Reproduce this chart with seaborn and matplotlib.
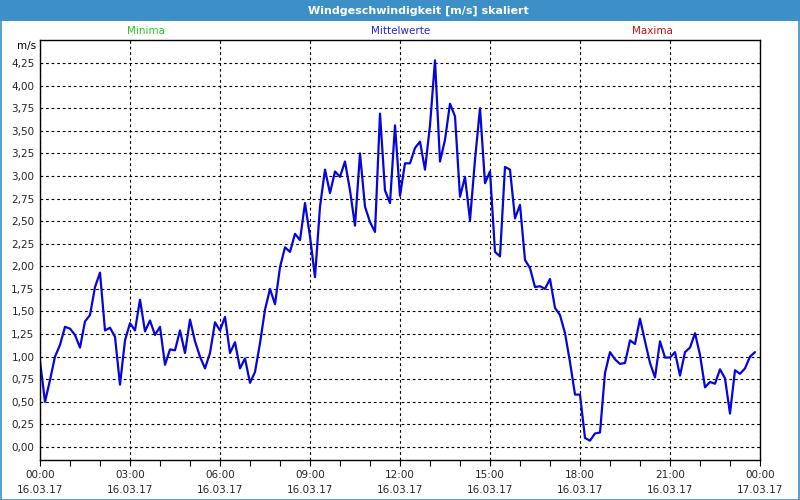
import numpy as np
import pandas as pd
import matplotlib
matplotlib.use("Agg")
import matplotlib.pyplot as plt
import matplotlib.dates as mdates
from matplotlib.ticker import FuncFormatter, FixedLocator
from matplotlib.patches import Rectangle
import seaborn as sns

# ---- data (10-minute means, 16.03.17 00:00 .. 23:50) ----
start_time = "2017-03-16 00:00"
end_time = "2017-03-17 00:00"
vals_00_06 = [0.95, 0.50, 0.74, 1.00, 1.13, 1.33, 1.31, 1.24, 1.10, 1.39, 1.46, 1.77,
              1.93, 1.29, 1.32, 1.22, 0.69, 1.18, 1.37, 1.29, 1.63, 1.28, 1.40, 1.24,
              1.33, 0.91, 1.08, 1.07, 1.29, 1.04, 1.41, 1.17, 1.00, 0.87, 1.04, 1.38]
vals_06_12 = [1.29, 1.44, 1.04, 1.16, 0.87, 0.98, 0.71, 0.83, 1.15, 1.52, 1.75, 1.58,
              1.99, 2.21, 2.16, 2.36, 2.29, 2.70, 2.33, 1.88, 2.66, 3.07, 2.81, 3.05,
              2.99, 3.16, 2.84, 2.45, 3.25, 2.66, 2.49, 2.38, 3.69, 2.84, 2.70, 3.56]
vals_12_18 = [2.78, 3.14, 3.14, 3.31, 3.38, 3.07, 3.56, 4.28, 3.16, 3.40, 3.80, 3.66,
              2.77, 2.99, 2.51, 3.18, 3.75, 2.92, 3.05, 2.16, 2.11, 3.10, 3.07, 2.53,
              2.68, 2.07, 1.98, 1.77, 1.78, 1.75, 1.86, 1.54, 1.46, 1.26, 0.94, 0.58]
vals_18_24 = [0.58, 0.10, 0.07, 0.15, 0.16, 0.82, 1.05, 0.97, 0.92, 0.93, 1.18, 1.14,
              1.42, 1.17, 0.93, 0.77, 1.17, 0.99, 0.99, 1.05, 0.79, 1.05, 1.10, 1.26,
              1.02, 0.66, 0.72, 0.70, 0.86, 0.76, 0.37, 0.85, 0.81, 0.87, 1.00, 1.05]
y_ticks = [0.0, 0.25, 0.5, 0.75, 1.0, 1.25, 1.5, 1.75, 2.0, 2.25, 2.5, 2.75, 3.0,
           3.25, 3.5, 3.75, 4.0, 4.25]
title = "Windgeschwindigkeit [m/s] skaliert"
legend_labels = ["Minima", "Mittelwerte", "Maxima"]
unit_label = "m/s"

values = vals_00_06 + vals_06_12 + vals_12_18 + vals_18_24
times = pd.date_range(start_time, periods=len(values), freq="10min")
df = pd.DataFrame({"Zeit": times, "Wind": values})

sns.set_theme(style="white")
plt.rcParams["font.family"] = ["DejaVu Sans"]

fig = plt.figure(figsize=(8, 5), dpi=100)
W, H = 800, 500
ax = fig.add_axes([40 / W, 1 - 460 / H, 720 / W, 420 / H])

sns.lineplot(data=df, x="Zeit", y="Wind", ax=ax, color="#0505dc", linewidth=1.6)

ax.set_xlim(pd.Timestamp(start_time), pd.Timestamp(end_time))
ax.set_ylim(-0.144, 4.505)
ax.set_xlabel("")
ax.set_ylabel("")

ax.yaxis.set_major_locator(FixedLocator(y_ticks))
ax.yaxis.set_major_formatter(FuncFormatter(lambda v, p: f"{v:.2f}".replace(".", ",")))
ax.xaxis.set_major_locator(mdates.HourLocator(byhour=range(0, 24, 3)))
ax.xaxis.set_minor_locator(mdates.HourLocator())
ax.xaxis.set_major_formatter(mdates.DateFormatter("%H:%M\n%d.%m.%y"))

ax.grid(True, which="major", color="black", linestyle=(0, (2.5, 2.5)), linewidth=0.8)
ax.tick_params(axis="x", which="both", direction="out", length=4, width=0.8,
               color="black", labelsize=7.5, pad=3, bottom=True)
ax.tick_params(axis="y", which="both", length=0, labelsize=7.5, pad=4)
for lab in ax.get_xticklabels():
    lab.set_linespacing(1.6)
for s in ax.spines.values():
    s.set_color("black")
    s.set_linewidth(1.0)
    s.set_visible(True)

# title bar and frame
fig.patches.append(Rectangle((0, 1 - 21 / H), 1, 21 / H, transform=fig.transFigure,
                             facecolor="#3d8fc8", edgecolor="none", zorder=0))
fig.patches.append(Rectangle((0.5 / W, 0.5 / H), 1 - 1.5 / W, 1 - 1.5 / H,
                             transform=fig.transFigure, facecolor="none",
                             edgecolor="#3d8fc8", linewidth=1.2, zorder=1))
fig.text(418 / W, 1 - 11 / H, title, color="white", fontsize=8, fontweight="bold",
         ha="center", va="center")

colors = ["#22cc22", "#2424e0", "#cc1010"]
xs = [146, 401, 652]
for lab, c, x in zip(legend_labels, colors, xs):
    fig.text(x / W, 1 - 31 / H, lab, color=c, fontsize=7.5, ha="center", va="center")
fig.text(36 / W, 1 - 46 / H, unit_label, color="black", fontsize=7.5, ha="right", va="center")

fig.savefig("out.png", dpi=100)
